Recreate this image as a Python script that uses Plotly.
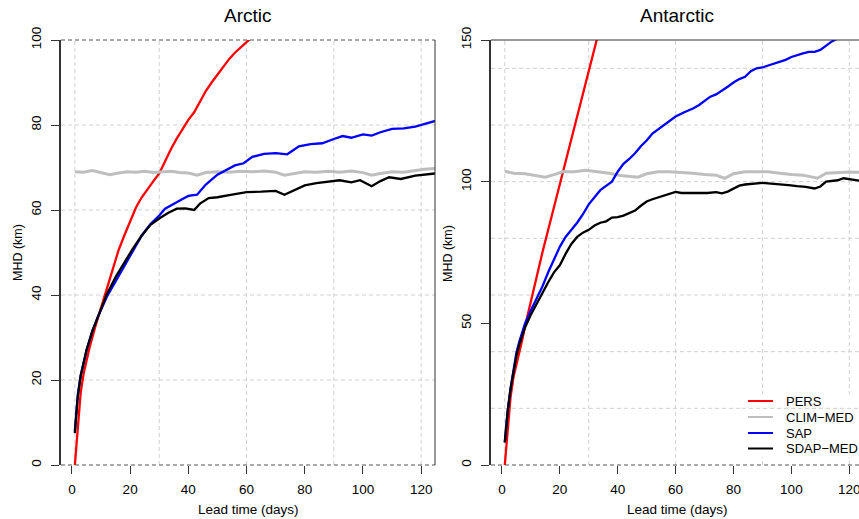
import plotly.graph_objects as go

# ---------------- data ----------------
# Arctic
ARC_PERS_DAYS = [1, 2, 3, 4, 6, 8, 10, 12, 14, 16, 18, 20, 22, 24, 26, 28, 30, 32, 34, 36,
                 38, 40, 42, 44, 46, 48, 50, 52, 54, 56, 58, 60, 62, 64]
ARC_PERS = [0, 9, 17, 21.5, 27.5, 32.5, 37, 41.8, 46, 50.5, 54, 57.5, 60.6, 63, 65, 66.8, 68.6,
            71.5, 74.3, 76.8, 79, 81.2, 83, 85.5, 88, 90, 91.8, 93.5, 95.5, 97, 98.3, 99.4, 100.8, 102]

ARC_CLIM_DAYS = [1, 4, 7, 10, 13, 16, 19, 22, 25, 28, 31, 34, 37, 40, 43, 46, 50, 54, 58, 62,
                 66, 70, 73, 76, 80, 84, 88, 92, 96, 100, 103, 106, 110, 114, 118, 121, 125]
ARC_CLIM = [69.0, 68.9, 69.3, 68.8, 68.3, 68.7, 69.0, 68.9, 69.1, 68.8, 69.0, 69.1, 68.8, 68.7,
            68.2, 68.8, 69.0, 68.9, 69.1, 69.0, 69.2, 68.9, 68.2, 68.6, 69.0, 68.9, 69.1, 68.9,
            69.2, 68.8, 68.2, 68.6, 69.0, 68.9, 69.3, 69.6, 69.8]

ARC_SAP_DAYS = [1, 2, 3, 5, 7, 9, 12, 15, 18, 21, 24, 27, 30, 32, 34, 36, 38, 40, 43, 46, 50,
                53, 56, 59, 62, 66, 70, 74, 78, 82, 86, 90, 93, 96, 100, 103, 106, 110, 114,
                118, 122, 125]
ARC_SAP = [8, 16.5, 21, 27, 31.5, 35, 39.6, 43.2, 46.7, 50.6, 54, 56.7, 58.7, 60.3, 61, 61.8,
           62.6, 63.3, 63.6, 66, 68.3, 69.5, 70.5, 71, 72.5, 73.2, 73.4, 73.1, 75, 75.5, 75.7,
           76.7, 77.4, 77.0, 77.8, 77.5, 78.3, 79.1, 79.2, 79.6, 80.3, 81.0]

ARC_SDAP_DAYS = [1, 2, 3, 5, 7, 9, 12, 15, 18, 21, 24, 27, 30, 33, 36, 39, 42, 44, 47, 50, 55,
                 60, 65, 70, 73, 76, 80, 84, 88, 92, 96, 99, 103, 106, 109, 113, 118, 122, 125]
ARC_SDAP = [7.5, 16, 21, 27, 31.5, 35, 40.2, 44.2, 47.7, 51, 54, 56.5, 58, 59.3, 60.3, 60.4,
            60.0, 61.5, 62.8, 63.0, 63.6, 64.2, 64.3, 64.5, 63.6, 64.5, 65.8, 66.3, 66.6, 67,
            66.5, 67, 65.6, 66.8, 67.7, 67.3, 68.1, 68.3, 68.6]

# Antarctic
ANT_PERS_DAYS = [1, 2, 3, 4, 5, 6, 7, 8, 9, 10, 12, 14, 16, 18, 20, 22, 24, 26, 28, 30, 32, 34]
ANT_PERS = [0, 12, 24, 31, 35, 39.5, 44, 49, 53.5, 58, 66, 75, 83, 91, 99, 107, 115, 123, 131,
            139, 147, 155]

ANT_CLIM_DAYS = [1, 4, 8, 12, 15, 18, 21, 25, 29, 33, 37, 41, 44, 47, 50, 54, 58, 62, 66, 70,
                 74, 77, 80, 84, 88, 92, 96, 100, 104, 107, 109, 112, 116, 120, 124]
ANT_CLIM = [103.7, 103, 102.8, 102, 101.6, 102.5, 103.5, 103.5, 104, 103.5, 103, 102.2, 101.8,
            101.6, 102.8, 103.5, 103.5, 103.3, 103, 102.5, 102.3, 101.2, 102.8, 103.5, 103.6,
            103.5, 103, 102.5, 102.3, 101.8, 101.2, 103, 103.3, 103.4, 103.3]

ANT_SAP_DAYS = [1, 2, 3, 4, 5, 6, 8, 10, 12, 14, 16, 18, 20, 22, 24, 26, 28, 30, 32, 34, 36,
                38, 40, 42, 44, 46, 48, 50, 52, 54, 56, 58, 60, 63, 66, 68, 70, 72, 74, 76, 78,
                80, 82, 84, 86, 88, 90, 92, 95, 98, 100, 102, 104, 106, 108, 110, 112, 114,
                116, 118]
ANT_SAP = [8, 19, 27, 34, 39.5, 43.5, 50, 54.5, 58.5, 63, 68, 72.5, 77, 80.5, 83, 85.5, 88.5,
           92, 94.5, 97, 98.5, 100, 103.5, 106.3, 108, 110, 112.5, 114.5, 117, 118.5, 120,
           121.5, 123, 124.5, 125.8, 127, 128.5, 130, 130.8, 132, 133.5, 135, 136.2, 137, 139,
           140, 140.3, 141, 142, 143, 144, 144.7, 145.3, 145.8, 145.8, 146.5, 148, 149.5,
           150.5, 151.5]

ANT_SDAP_DAYS = [1, 2, 3, 4, 5, 6, 8, 10, 12, 14, 16, 18, 20, 22, 24, 26, 28, 30, 32, 34, 36,
                 38, 40, 42, 44, 46, 48, 50, 52, 54, 56, 58, 60, 62, 65, 68, 71, 74, 76, 78,
                 80, 82, 84, 87, 90, 93, 96, 99, 102, 105, 108, 110, 112, 114, 116, 118, 120,
                 122, 124]
ANT_SDAP = [8, 19, 27, 33.5, 38.5, 42.5, 48.5, 53, 57, 61, 64.5, 68, 70.5, 74.5, 78, 80.5, 82,
            83, 84.5, 85.5, 86, 87.3, 87.5, 88, 89, 89.8, 91.5, 93, 93.8, 94.5, 95.2, 95.8,
            96.4, 96, 96, 95.9, 96, 96.3, 95.9, 96.5, 97.6, 98.6, 99, 99.2, 99.6, 99.3, 99.1,
            98.8, 98.4, 98.2, 97.6, 98.3, 100, 100.3, 100.5, 101.2, 100.9, 100.5, 100.3]

SERIES_NAMES = ["PERS", "CLIM\u2212MED", "SAP", "SDAP\u2212MED"]
PANEL_TITLES = ["Arctic", "Antarctic"]
X_TICKS = [0, 20, 40, 60, 80, 100, 120]
X_GRID = [1, 30, 60, 90, 120]
ARC_Y_TICKS = [0, 20, 40, 60, 80, 100]
ARC_Y_GRID = [20, 40, 60, 80]
ANT_Y_TICKS = [0, 50, 100, 150]
ANT_Y_GRID = [20, 40, 60, 80, 100, 120, 140]

# ---------------- styling ----------------
W, H = 859, 519
FONT = "Liberation Sans, Arial, Helvetica, sans-serif"
COLORS = ["#ff0000", "#bebebe", "#0000ff", "#000000"]
WIDTHS = [2.3, 3.0, 2.3, 2.3]
AX = "#333333"
GRIDC = "#d0d0d0"
DARKDASH = "#555555"
FS = 13.5


def PX(p):
    return p / W


def PY(p):
    return 1 - p / H


fig = go.Figure()

panels = [
    (("x", "y"), [(ARC_PERS_DAYS, ARC_PERS), (ARC_CLIM_DAYS, ARC_CLIM),
                  (ARC_SAP_DAYS, ARC_SAP), (ARC_SDAP_DAYS, ARC_SDAP)]),
    (("x2", "y2"), [(ANT_PERS_DAYS, ANT_PERS), (ANT_CLIM_DAYS, ANT_CLIM),
                    (ANT_SAP_DAYS, ANT_SAP), (ANT_SDAP_DAYS, ANT_SDAP)]),
]
for (xa, ya), series in panels:
    for i, (d, v) in enumerate(series):
        fig.add_trace(go.Scatter(x=d, y=v, mode="lines", xaxis=xa, yaxis=ya,
                                 line=dict(color=COLORS[i], width=WIDTHS[i]),
                                 showlegend=False, hoverinfo="skip"))

shapes = []
# grids
for xref, yref, ygrid in [("x", "y", ARC_Y_GRID), ("x2", "y2", ANT_Y_GRID)]:
    for g in X_GRID:
        shapes.append(dict(type="line", xref=xref, yref=yref + " domain", x0=g, x1=g, y0=0, y1=1,
                           line=dict(color=GRIDC, width=1, dash="4px,3px"), layer="below"))
    for g in ygrid:
        shapes.append(dict(type="line", xref=xref + " domain", yref=yref, x0=0, x1=1, y0=g, y1=g,
                           line=dict(color=GRIDC, width=1, dash="4px,3px"), layer="below"))
    # bottom dashed dark line
    shapes.append(dict(type="line", xref=xref + " domain", yref=yref + " domain", x0=0, x1=1,
                       y0=0, y1=0, line=dict(color=DARKDASH, width=1, dash="4px,3px"),
                       layer="below"))
# left panel: top dashed, right border solid
shapes.append(dict(type="line", xref="x domain", yref="y domain", x0=0, x1=1, y0=1, y1=1,
                   line=dict(color=DARKDASH, width=1, dash="4px,3px"), layer="below"))
shapes.append(dict(type="line", xref="x domain", yref="y domain", x0=1, x1=1, y0=0, y1=1,
                   line=dict(color=AX, width=1), layer="above"))
# right panel: top solid
shapes.append(dict(type="line", xref="x2 domain", yref="y2 domain", x0=0, x1=1, y0=1, y1=1,
                   line=dict(color=AX, width=1), layer="above"))

# legend (manual, R style)
shapes.append(dict(type="rect", xref="paper", yref="paper", x0=PX(742), x1=1, y0=PY(457),
                   y1=PY(394), fillcolor="white", line=dict(width=0), layer="above"))
shapes.append(dict(type="line", xref="x2 domain", yref="y2", x0=(742 - 491) / (859 - 491), x1=1,
                   y0=20, y1=20, line=dict(color=GRIDC, width=1, dash="4px,3px"), layer="above"))
LEG_ROWS = [401, 417, 433, 448.5]
annotations = []
for i, name in enumerate(SERIES_NAMES):
    yy = PY(LEG_ROWS[i])
    shapes.append(dict(type="line", xref="paper", yref="paper", x0=PX(748), x1=PX(773), y0=yy,
                       y1=yy, line=dict(color=COLORS[i], width=2), layer="above"))
    annotations.append(dict(text=name, xref="paper", yref="paper", x=PX(784), y=yy,
                            xanchor="left", yanchor="middle", showarrow=False,
                            font=dict(family=FONT, size=FS - 0.5, color="black")))

# titles and axis labels
for title, cx in zip(PANEL_TITLES, [248, 677]):
    annotations.append(dict(text=title, xref="paper", yref="paper", x=PX(cx), y=PY(15),
                            xanchor="center", yanchor="middle", showarrow=False,
                            font=dict(family=FONT, size=19, color="black")))
for cx in [248, 677]:
    annotations.append(dict(text="Lead time (days)", xref="paper", yref="paper", x=PX(cx),
                            y=PY(509), xanchor="center", yanchor="middle", showarrow=False,
                            font=dict(family=FONT, size=FS, color="black")))
for cx in [18, 448]:
    annotations.append(dict(text="MHD (km)", xref="paper", yref="paper", x=PX(cx), y=PY(253),
                            xanchor="center", yanchor="middle", textangle=-90, showarrow=False,
                            font=dict(family=FONT, size=FS - 1, color="black")))

ydom = [(H - 465) / H, (H - 40) / H]
xcommon = dict(tickvals=X_TICKS, ticks="outside", ticklen=8, tickwidth=1, tickcolor=AX,
               showgrid=False, zeroline=False, showline=False, automargin=False,
               tickfont=dict(family=FONT, size=FS, color="black"), ticklabelstandoff=4,
               ticklabeloverflow="allow")
ycommon = dict(ticks="outside", ticklen=8, tickwidth=1, tickcolor=AX, showgrid=False,
               zeroline=False, showline=True, linewidth=2, linecolor=AX, automargin=False,
               tickangle=-90, tickfont=dict(family=FONT, size=FS, color="black"),
               ticklabelstandoff=5, ticklabeloverflow="allow")

fig.update_layout(
    width=W, height=H, margin=dict(l=0, r=0, t=0, b=0),
    paper_bgcolor="white", plot_bgcolor="white", showlegend=False,
    font=dict(family=FONT, size=FS, color="black"),
    xaxis=dict(domain=[PX(61), PX(435)], range=[-3.76, 124.76], anchor="y", **xcommon),
    yaxis=dict(domain=ydom, range=[0, 100], tickvals=ARC_Y_TICKS, anchor="x", **ycommon),
    xaxis2=dict(domain=[PX(491), 1.0], range=[-3.76, (859 - 502) / 2.894], anchor="y2",
                **xcommon),
    yaxis2=dict(domain=ydom, range=[0, 150], tickvals=ANT_Y_TICKS, anchor="x2", **ycommon),
    shapes=shapes, annotations=annotations,
)

fig.write_html("out.html")
